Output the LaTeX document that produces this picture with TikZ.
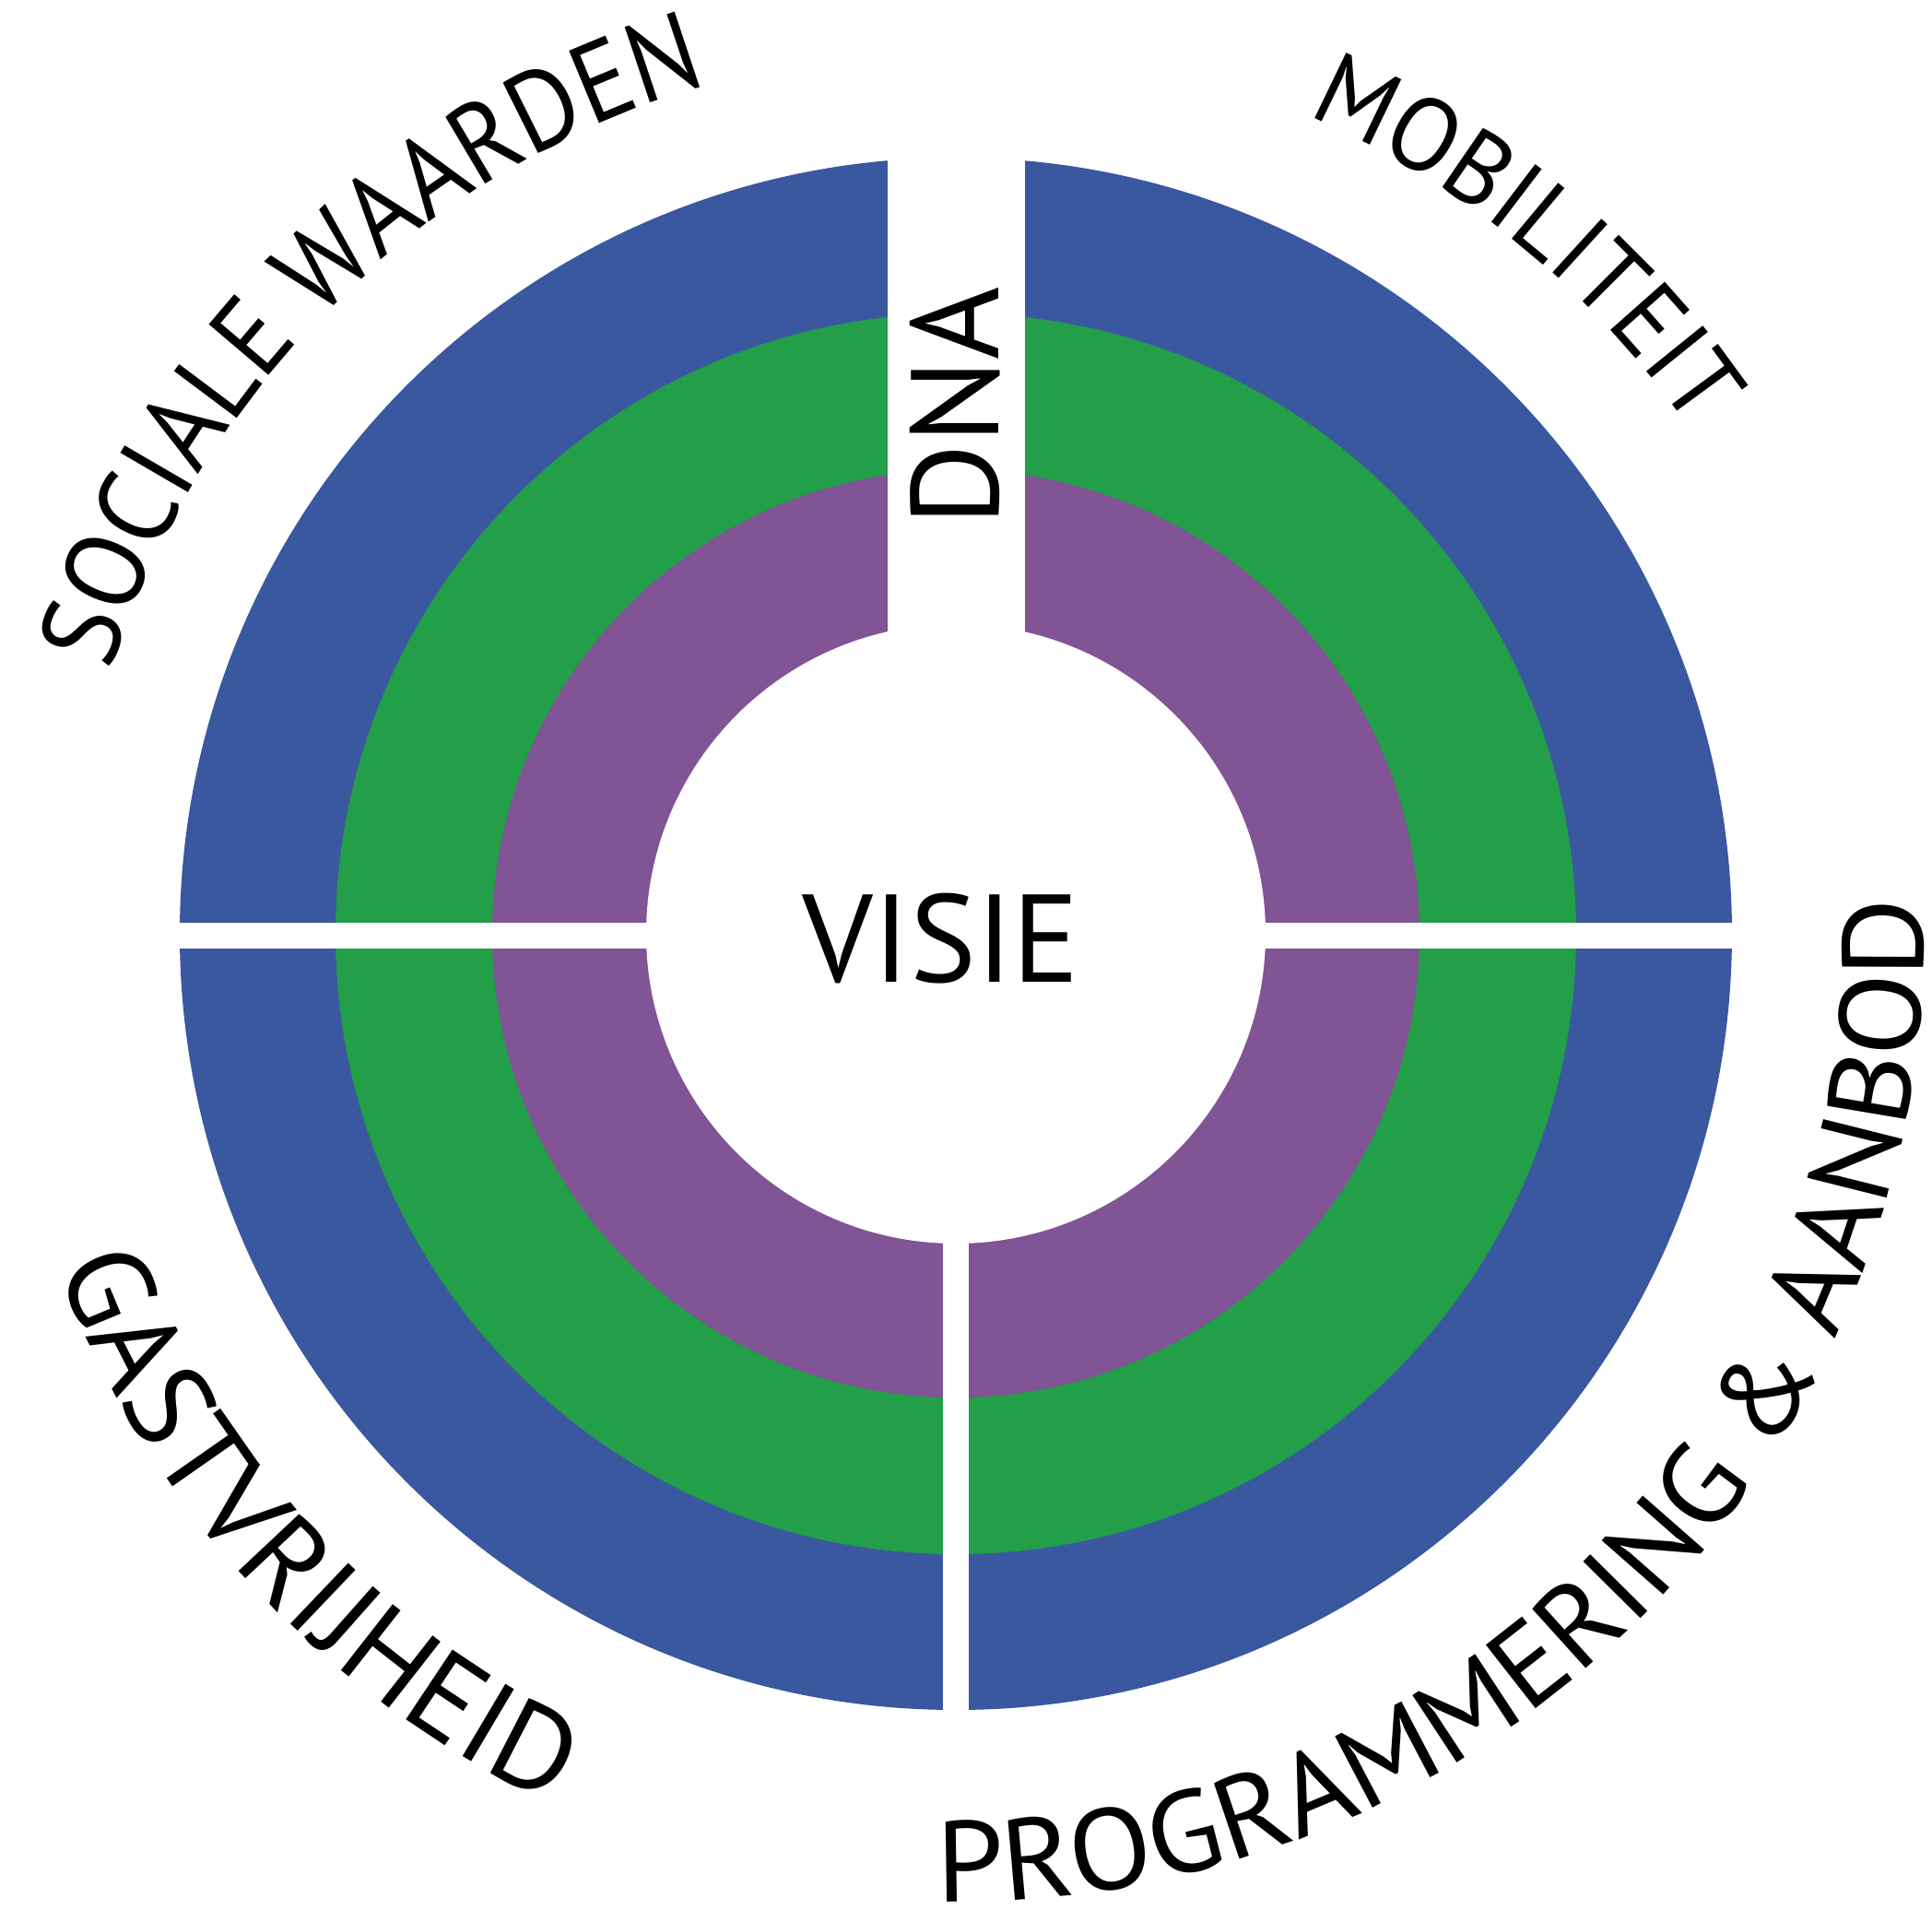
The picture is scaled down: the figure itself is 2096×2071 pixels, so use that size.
\documentclass[tikz,border=0pt]{standalone}
\usepackage{fontspec}
\setmainfont{PT Sans}
\newfontfamily\fontsoc[FakeStretch=0.925]{PT Sans}
\newfontfamily\fontmob[FakeStretch=0.95]{PT Sans}
\newfontfamily\fontgas[FakeStretch=1.01]{PT Sans}
\newfontfamily\fontprog[FakeStretch=1.05]{PT Sans}
\usetikzlibrary{decorations.text}
\definecolor{ringblue}{HTML}{3A58A0}
\definecolor{ringgreen}{HTML}{239E49}
\definecolor{ringpurple}{HTML}{805495}
\begin{document}
\begin{tikzpicture}[x=0.01cm,y=0.01cm,
  arclabel/.style={decorate, decoration={text along path, text align=center}},
  bigtext/.style={font=\fontsize{38.5}{42}\selectfont, inner sep=0pt}]
\useasboundingbox (-1037,-1058) rectangle (1059,1013);
% rings
\fill[ringblue] (0,0) circle[radius=842];
\fill[ringgreen] (0,0) circle[radius=673];
\fill[ringpurple] (0,0) circle[radius=503];
\fill[white] (0,0) circle[radius=336];
% gaps
\fill[white] (-74,0) rectangle (75,900);
\fill[white] (-900,-16) rectangle (900,12);
\fill[white] (-14,0) rectangle (14,-900);
% centre labels
\node[bigtext, rotate=90] (dna) at (-1,572) {DNA};
\node[bigtext] (visie) at (-16,-5) {VISIE};
% arc labels
\path[arclabel, decoration={text={|\fontsoc\fontsize{34.5}{40}\selectfont|SOCIALE WAARDEN}}]
  (174.5:960) arc[start angle=174.5, end angle=94.5, radius=960];
\path[arclabel, decoration={text={|\fontmob\fontsize{32}{38}\selectfont|MOBILITEIT}}]
  (90.6:966) arc[start angle=90.6, end angle=10.6, radius=966];
\path[arclabel, decoration={text={|\fontgas\fontsize{37}{42}\selectfont|GASTVRIJHEID}}]
  (180.25:1040) arc[start angle=180.25, end angle=265.25, radius=1040];
\path[arclabel, decoration={text={|\fontprog\fontsize{35.5}{40}\selectfont|PROGRAMMERING {\&} AANBOD}}]
  (255:1050) arc[start angle=255, end angle=376, radius=1050];
\end{tikzpicture}
\end{document}
